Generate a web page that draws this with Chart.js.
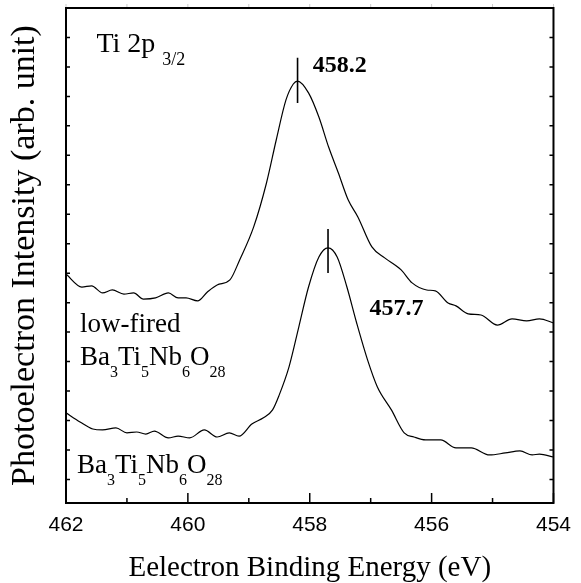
<!DOCTYPE html>
<html>
<head>
<meta charset="utf-8">
<script src="https://cdn.jsdelivr.net/npm/chart.js@4.4.1/dist/chart.umd.min.js"></script>
<style>
  html, body { margin: 0; padding: 0; background: #fff; }
  #wrap { width: 581px; height: 583px; }
</style>
</head>
<body>
<div id="wrap"><canvas id="xps" width="581" height="583"></canvas></div>
<script>
'use strict';

// Ti 2p3/2 spectra (binding energy in eV, intensity in arb. units)
const lowFiredEnergy = [462.00, 461.74, 461.58, 461.40, 461.24, 461.05, 460.89, 460.73, 460.53, 460.32,
    460.16, 460.03, 459.84, 459.68, 459.52, 459.31, 459.15, 458.92, 458.71, 458.55,
    458.39, 458.27, 458.20, 458.02, 457.85, 457.69, 457.53, 457.37, 457.21, 456.98,
    456.77, 456.50, 456.32, 456.08, 455.94, 455.73, 455.60, 455.40, 455.19, 454.92,
    454.68, 454.44, 454.23, 454.00];
const lowFiredIntensity = [6.97, 6.53, 6.57, 6.33, 6.43, 6.29, 6.33, 6.12, 6.16, 6.33,
    6.16, 6.16, 6.06, 6.36, 6.60, 6.77, 7.45, 8.57, 10.06, 11.52,
    12.88, 13.42, 13.52, 13.12, 12.30, 11.28, 10.40, 9.49, 8.91, 7.89,
    7.52, 7.11, 6.67, 6.43, 6.40, 5.99, 5.89, 5.62, 5.58, 5.24,
    5.45, 5.38, 5.45, 5.31];

const sinteredEnergy = [462.00, 461.77, 461.56, 461.40, 461.18, 461.00, 460.84, 460.69, 460.55, 460.32,
    460.16, 459.97, 459.73, 459.52, 459.32, 459.16, 458.95, 458.76, 458.61, 458.50,
    458.34, 458.18, 458.02, 457.85, 457.70, 457.55, 457.39, 457.23, 457.05, 456.89,
    456.66, 456.45, 456.29, 456.10, 455.85, 455.60, 455.35, 455.05, 454.79, 454.55,
    454.35, 454.23, 454.00];
const sinteredIntensity = [2.26, 1.95, 1.71, 1.68, 1.75, 1.58, 1.61, 1.54, 1.64, 1.41,
    1.47, 1.41, 1.68, 1.44, 1.58, 1.47, 1.88, 2.09, 2.36, 2.87,
    3.82, 5.17, 6.53, 7.55, 7.86, 7.55, 6.53, 5.31, 4.05, 3.14,
    2.36, 1.58, 1.44, 1.34, 1.34, 1.07, 1.07, 0.83, 0.90, 0.97,
    0.83, 0.86, 0.76];

// peak positions and the short vertical marks drawn through them
const peakEnergy = [458.2, 457.7];
const peakLabels = ['458.2', '457.7'];
const peakMarkTop = [14.31, 8.50];
const peakMarkBottom = [12.78, 7.01];

const xTickLabels = [462, 460, 458, 456, 454];
const yTickValues = [0, 1, 2, 3, 4, 5, 6, 7, 8, 9, 10, 11, 12, 13, 14, 15];

const toPoints = (xs, ys) => xs.map((v, i) => ({ x: v, y: ys[i] }));

const SERIF = '"Liberation Serif", "Times New Roman", serif';
const SANS = '"Liberation Sans", Arial, sans-serif';

/* frame around the plot plus inward tick marks on every side */
const framePlugin = {
    id: 'frame',
    afterDatasetsDraw(chart) {
        const { ctx, chartArea: a, scales: { x, y } } = chart;
        ctx.save();
        ctx.strokeStyle = '#000';
        ctx.lineWidth = 2;
        ctx.strokeRect(a.left, a.top, a.right - a.left, a.bottom - a.top);

        ctx.lineWidth = 1.5;
        x.ticks.forEach(t => {
            const px = x.getPixelForValue(t.value);
            const len = xTickLabels.includes(t.value) ? 10 : 5;
            ctx.beginPath();
            ctx.moveTo(px, a.bottom);
            ctx.lineTo(px, a.bottom - len);
            ctx.stroke();
        });
        ctx.strokeStyle = '#ccc';
        ctx.lineWidth = 1;
        x.ticks.forEach(t => {
            const px = x.getPixelForValue(t.value);
            ctx.beginPath();
            ctx.moveTo(px, a.top - 1);
            ctx.lineTo(px, a.top - 4);
            ctx.stroke();
        });

        ctx.strokeStyle = '#000';
        ctx.lineWidth = 1.5;
        y.ticks.forEach(t => {
            const py = y.getPixelForValue(t.value);
            ctx.beginPath();
            ctx.moveTo(a.left, py);
            ctx.lineTo(a.left + 4, py);
            ctx.moveTo(a.right, py);
            ctx.lineTo(a.right - 4, py);
            ctx.stroke();
        });
        ctx.restore();
    }
};

/* draw a run of text pieces, some of them as subscripts */
function drawRuns(ctx, x, y, runs, size, subSize, drop) {
    let cx = x;
    runs.forEach(([txt, sub]) => {
        ctx.font = `${sub ? subSize : size}px ${SERIF}`;
        ctx.fillText(txt, cx, sub ? y + drop : y);
        cx += ctx.measureText(txt).width;
    });
}

const formula = [['Ba', 0], ['3', 1], ['Ti', 0], ['5', 1], ['Nb', 0], ['6', 1], ['O', 0], ['28', 1]];

const labelPlugin = {
    id: 'labels',
    afterDatasetsDraw(chart) {
        const { ctx, scales: { x, y } } = chart;
        ctx.save();
        ctx.fillStyle = '#000';
        ctx.textAlign = 'left';
        ctx.textBaseline = 'alphabetic';

        drawRuns(ctx, x.getPixelForValue(461.5), y.getPixelForValue(14.51),
            [['Ti 2p ', 0], ['3/2', 1]], 28, 18, 13);

        ctx.font = `27px ${SERIF}`;
        ctx.fillText('low-fired', x.getPixelForValue(461.77), y.getPixelForValue(5.0));
        drawRuns(ctx, x.getPixelForValue(461.77), y.getPixelForValue(3.88), formula, 27, 16, 12);
        drawRuns(ctx, x.getPixelForValue(461.82), y.getPixelForValue(0.22), formula, 27, 16, 12);

        ctx.font = `bold 24px ${SERIF}`;
        ctx.fillText(peakLabels[0], x.getPixelForValue(457.95), y.getPixelForValue(13.83));
        ctx.fillText(peakLabels[1], x.getPixelForValue(457.02), y.getPixelForValue(5.58));
        ctx.restore();
    }
};

const curveStyle = {
    borderColor: '#000',
    borderWidth: 1.2,
    pointRadius: 0,
    fill: false,
    cubicInterpolationMode: 'monotone',
};

const markStyle = {
    borderColor: '#000',
    borderWidth: 1.6,
    pointRadius: 0,
    fill: false,
};

new Chart(document.getElementById('xps'), {
    type: 'line',
    data: {
        datasets: [
            { label: 'low-fired', data: toPoints(lowFiredEnergy, lowFiredIntensity), ...curveStyle },
            { label: 'sintered', data: toPoints(sinteredEnergy, sinteredIntensity), ...curveStyle },
            ...peakEnergy.map((e, i) => ({
                label: peakLabels[i],
                data: [{ x: e, y: peakMarkTop[i] }, { x: e, y: peakMarkBottom[i] }],
                ...markStyle,
            })),
        ],
    },
    options: {
        responsive: false,
        animation: false,
        devicePixelRatio: 1,
        layout: { padding: { top: 8, right: 19, left: 0, bottom: 0 } },
        plugins: {
            legend: { display: false },
            tooltip: { enabled: false },
        },
        scales: {
            x: {
                type: 'linear',
                reverse: true,
                min: 454,
                max: 462,
                grid: { display: false, drawTicks: false },
                border: { display: false },
                ticks: {
                    stepSize: 1,
                    autoSkip: false,
                    maxRotation: 0,
                    padding: 10,
                    color: '#000',
                    font: { family: SANS, size: 21 },
                    callback: v => (xTickLabels.includes(v) ? String(v) : ''),
                },
                title: {
                    display: true,
                    text: 'Eelectron Binding Energy (eV)',
                    color: '#000',
                    font: { family: SERIF, size: 29, lineHeight: 1 },
                    padding: { top: 0, bottom: 0 },
                },
                afterFit: s => { s.height = 80; },
            },
            y: {
                type: 'linear',
                min: -0.8,
                max: 16,
                grid: { display: false, drawTicks: false },
                border: { display: false },
                ticks: { display: false },
                afterBuildTicks: s => { s.ticks = yTickValues.map(v => ({ value: v })); },
                title: {
                    display: true,
                    text: 'Photoelectron Intensity (arb. unit)',
                    color: '#000',
                    font: { family: SERIF, size: 34, lineHeight: 1 },
                    padding: { top: 8, bottom: 0 },
                },
                afterFit: s => { s.width = 66; },
            },
        },
    },
    plugins: [framePlugin, labelPlugin],
});
</script>
</body>
</html>
